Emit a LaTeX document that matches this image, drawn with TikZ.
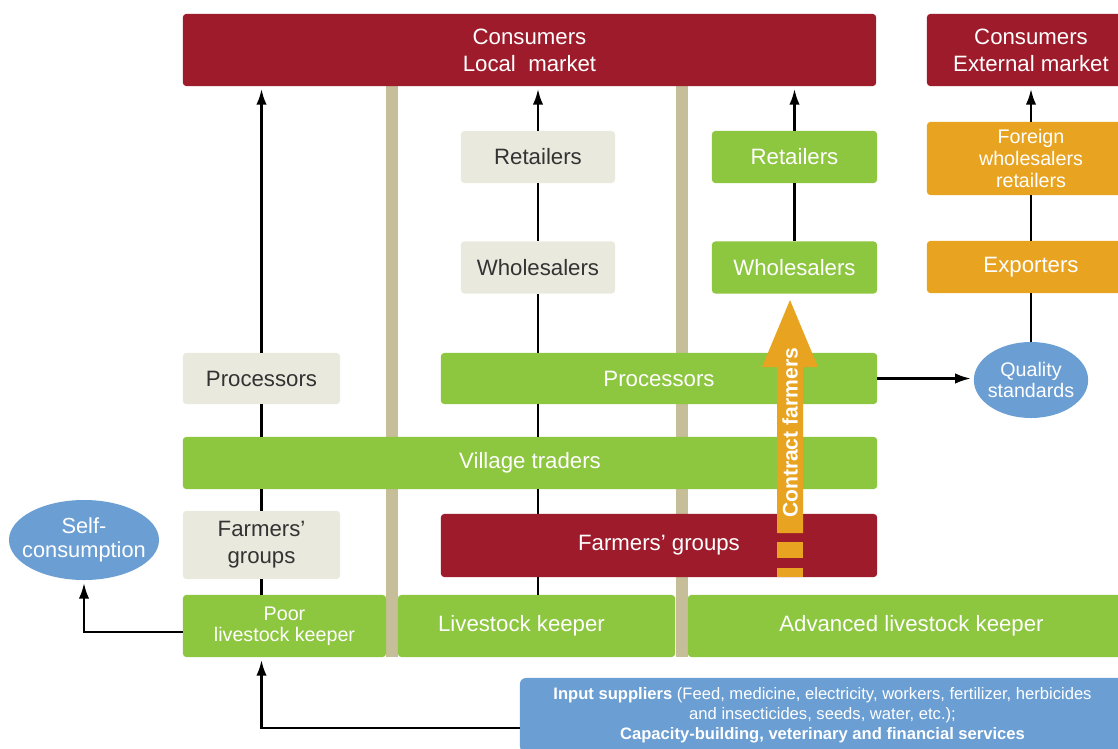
\documentclass[tikz,border=0pt]{standalone}
\usepackage{fontspec}
\setmainfont{Liberation Sans}
\usetikzlibrary{arrows.meta,shapes.geometric}
\definecolor{cred}{HTML}{9E1B2B}
\definecolor{cgreen}{HTML}{8DC63F}
\definecolor{cbeige}{HTML}{E9E9DE}
\definecolor{cbar}{HTML}{C5BE98}
\definecolor{corange}{HTML}{E8A420}
\definecolor{cblue}{HTML}{6B9ED2}
\definecolor{ctext}{HTML}{333333}
\begin{document}
\begin{tikzpicture}[x=0.025cm,y=-0.025cm,
  box/.style={rectangle,rounded corners=0.8mm,inner sep=0pt,align=center,
    font=\fontsize{15.8}{19}\selectfont},
  redbox/.style={box,fill=cred,text=white},
  greenbox/.style={box,fill=cgreen,text=white},
  beigebox/.style={box,fill=cbeige,text=ctext},
  orangebox/.style={box,fill=corange,text=white},
  blueoval/.style={ellipse,inner sep=0pt,align=center,fill=cblue,text=white,
    font=\fontsize{15.5}{17}\selectfont},
  link/.style={line width=1.9pt},
  flow/.style={link,-{Latex[length=4mm,width=2.6mm]},shorten >=0.6mm},
  bar/.style={cbar,line width=0.3cm}]
\useasboundingbox (0,0) rectangle (1118,749);

% separators between the keeper types
\draw[bar] (392,86) -- (392,657);
\draw[bar] (681.5,86) -- (681.5,657);

% markets
\node[redbox,minimum width=17.325cm,minimum height=1.8cm] (local) at (529.5,50) {Consumers\\Local\ \ market};
\node[redbox,minimum width=5.2cm,minimum height=1.8cm] (extern) at (1031,50) {Consumers\\External market};

% traders
\node[beigebox,minimum width=3.85cm,minimum height=1.3cm] (retB) at (538,157) {Retailers};
\node[beigebox,minimum width=3.85cm,minimum height=1.3cm] (wsB) at (538,267.5) {Wholesalers};
\node[greenbox,minimum width=4.125cm,minimum height=1.3cm] (retG) at (794.5,157) {Retailers};
\node[greenbox,minimum width=4.125cm,minimum height=1.3cm] (wsG) at (794.5,267.5) {Wholesalers};
\node[orangebox,minimum width=5.2cm,minimum height=1.825cm,font=\fontsize{14}{15.5}\selectfont] (foreign) at (1031,158.5) {Foreign\\wholesalers\\retailers};
\node[orangebox,minimum width=5.2cm,minimum height=1.3cm] (export) at (1031,267) {Exporters};
\node[blueoval,minimum width=2.85cm,minimum height=1.9cm,inner xsep=-0.7mm,font=\fontsize{14}{15}\selectfont] (quality) at (1031,380) {Quality\\standards};
\node[beigebox,minimum width=3.925cm,minimum height=1.275cm] (procB) at (261.5,378.5) {Processors};
\node[greenbox,minimum width=10.9cm,minimum height=1.275cm] (procG) at (659,378.5) {Processors};
\node[greenbox,minimum width=17.35cm,minimum height=1.3cm] (village) at (530,463) {Village traders};
\node[beigebox,minimum width=3.925cm,minimum height=1.7cm] (fgB) at (261.5,545) {Farmers'\\groups};
\node[redbox,minimum width=10.9cm,minimum height=1.575cm] (fgR) at (659,545.5) {Farmers' groups};

% keepers
\node[greenbox,minimum width=5.075cm,minimum height=1.55cm,font=\fontsize{14}{15}\selectfont] (poor) at (284.5,626) {Poor\\livestock keeper};
\node[greenbox,minimum width=6.925cm,minimum height=1.55cm] (keeper) at (536.5,626) {Livestock keeper\hspace*{0.75cm}};
\node[greenbox,minimum width=11.175cm,minimum height=1.55cm] (advanced) at (911.5,626) {Advanced livestock keeper};
\node[blueoval,minimum width=3.75cm,minimum height=2cm,inner xsep=-2.2mm] (self) at (84,540) {Self-\\consumption};
\node[box,rounded corners=1.5mm,fill=cblue,text=white,minimum width=15.125cm,minimum height=1.85cm,font=\fontsize{11.8}{14.3}\selectfont] (input) at (822.5,715)
  {\textbf{Input suppliers} (Feed, medicine, electricity, workers, fertilizer, herbicides\\and insecticides, seeds, water, etc.);\\\textbf{Capacity-building, veterinary and financial services}};

% contract farmers
\fill[corange] (777,533) -- (777,367) -- (762,367) -- (790,300) -- (818,367) -- (803,367) -- (803,533) -- cycle;
\fill[corange] (777,542) rectangle (803,558);
\fill[corange] (777,568) rectangle (803,577);
\node[rotate=90,text=white,font=\bfseries\fontsize{15}{17}\selectfont] (contract) at (790,433) {Contract farmers};

% chains
\draw[flow] (procB.north) -- (procB.north |- local.south);
\draw[flow] (retB.north) -- (retB.north |- local.south);
\draw[flow] (retG.north) -- (retG.north |- local.south);
\draw[flow] (foreign.north) -- (extern.south);
\draw[link] (wsB.north) -- (retB.south);
\draw[link] (wsB.south) -- (wsB.south |- procG.north);
\draw[link] (wsB.south |- procG.south) -- (wsB.south |- village.north);
\draw[link] (wsB.south |- village.south) -- (wsB.south |- fgR.north);
\draw[link] (wsB.south |- fgR.south) -- (wsB.south |- keeper.north);
\draw[link] (wsG.north) -- (retG.south);
\draw[link] (quality.north) -- (export.south);
\draw[link] (export.north) -- (foreign.south);
\draw[flow] (procG.east) -- (procG.east -| quality.west);
\draw[link] (procB.south) -- (procB.south |- village.north);
\draw[link] (fgB.north) -- (fgB.north |- village.south);
\draw[link] (fgB.south) -- (fgB.south |- poor.north);
\draw[flow] ([yshift=-1.5mm]poor.west) -| (self.south);
\draw[flow] ([yshift=-3.25mm]input.west) -| (fgB.south |- poor.south);
\end{tikzpicture}
\end{document}
